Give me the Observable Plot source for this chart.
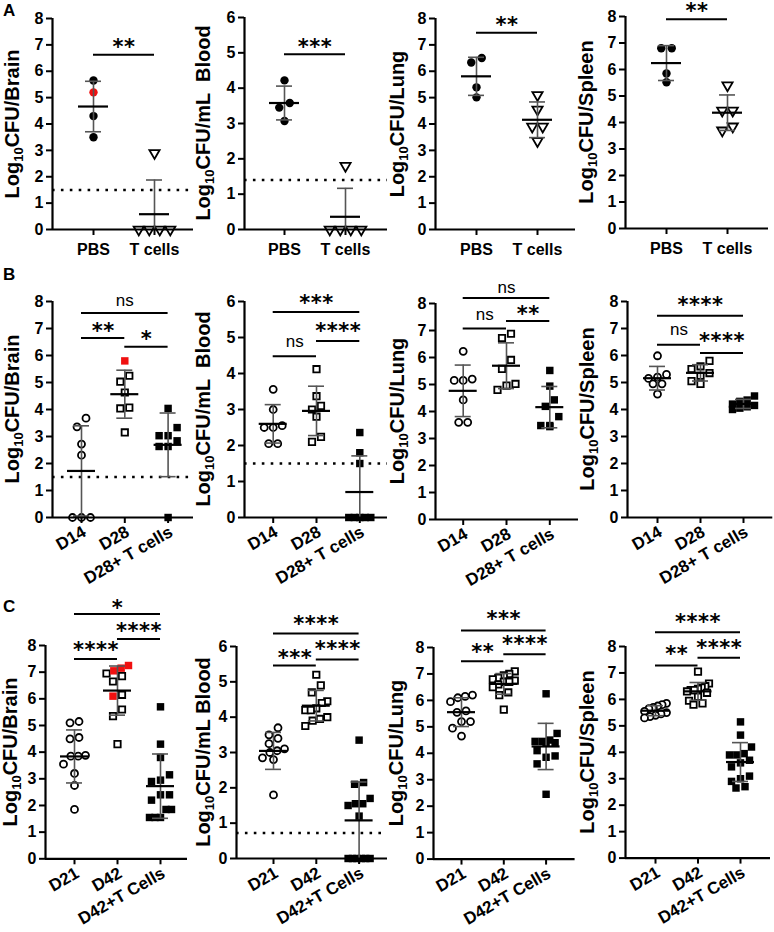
<!DOCTYPE html>
<html><head><meta charset="utf-8">
<script src="https://cdn.jsdelivr.net/npm/d3@7"></script>
<script src="https://cdn.jsdelivr.net/npm/@observablehq/plot@0.6"></script>
<style>
body{margin:0;background:#fff;}
#fig{position:relative;width:774px;height:932px;overflow:hidden;background:#fff;font-family:"Liberation Sans",Arial,sans-serif;color:#000;}
.panel{position:absolute;}
.ylab{position:absolute;white-space:pre;font-weight:bold;font-size:20px;line-height:1;transform:translate(-50%,-50%) rotate(-90deg);}
.ylab sub{font-size:13px;vertical-align:-4px;}
.letter{position:absolute;font-weight:bold;font-size:17px;line-height:1;}
</style></head>
<body><div id="fig"></div>
<script>
// ---------- categories ----------
const catsA = ["PBS", "T cells"];
const catsB = ["D14", "D28", "D28+ T cells"];
const catsC = ["D21", "D42", "D42+T Cells"];

// ---------- Row A values (log10 CFU) ----------
const A_brain_PBS = [5.65, 4.3, 3.5];
const A_brain_PBS_red = [5.2];
const A_brain_T = [2.9, 0, 0, 0, 0];
const A_blood_PBS = [4.22, 3.58, 3.45, 3.07];
const A_blood_T = [1.8, 0, 0, 0, 0];
const A_lung_PBS = [6.5, 6.33, 5.39, 5.01];
const A_lung_T = [5.1, 4.55, 3.9, 3.9, 3.35];
const A_spleen_PBS = [6.8, 6.8, 5.85, 5.52];
const A_spleen_T = [5.4, 4.45, 4.45, 3.85, 3.7];

// ---------- Row B values ----------
const B_brain_D14 = [3.68, 3.36, 2.72, 2.31, 0, 0, 0];
const B_brain_D28 = [5.25, 5.03, 4.63, 4.07, 4.04, 3.15];
const B_brain_D28_red = [5.8];
const B_brain_D28T = [4.04, 3.33, 3.03, 3.03, 2.84, 2.63, 2.63, 0];
const B_blood_D14 = [3.56, 3.0, 2.55, 2.5, 2.5, 2.05, 2.05];
const B_blood_D28 = [4.12, 3.37, 3.1, 3.0, 2.8, 2.24, 2.1];
const B_blood_D28T = [2.36, 1.8, 1.5, 0, 0, 0, 0, 0];
const B_lung_D14 = [6.23, 5.2, 5.15, 5.15, 4.43, 3.6, 3.6];
const B_lung_D28 = [6.88, 6.72, 5.91, 5.58, 5.02, 4.96, 4.8];
const B_lung_D28T = [5.52, 4.94, 4.43, 4.19, 3.81, 3.48, 3.48, 3.44];
const B_spleen_D14 = [5.99, 5.3, 5.2, 5.15, 4.95, 4.95, 4.57];
const B_spleen_D28 = [5.8, 5.6, 5.5, 5.35, 5.25, 5.05, 4.95];
const B_spleen_D28T = [4.5, 4.35, 4.3, 4.2, 4.15, 4.1, 4.05, 4.0];

// ---------- Row C values ----------
const C_brain_D21 = [5.15, 5.1, 4.55, 4.5, 3.88, 3.85, 3.85, 3.55, 3.2, 2.75, 1.85];
const C_brain_D42 = [6.95, 6.85, 6.65, 6.15, 5.6, 5.35, 4.3];
const C_brain_D42_red = [7.25, 7.15, 7.05, 6.1];
const C_brain_D42T = [5.7, 4.3, 3.8, 3.15, 2.95, 2.9, 2.4, 2.4, 2.2, 1.85, 1.85, 1.55, 1.55, 1.55];
const C_blood_D21 = [3.7, 3.5, 3.4, 3.25, 3.1, 3.05, 3.0, 2.85, 2.8, 1.8];
const C_blood_D42 = [5.2, 4.9, 4.7, 4.45, 4.4, 4.25, 4.2, 4.2, 4.0, 3.95, 3.9, 3.75];
const C_blood_D42T = [3.35, 2.15, 2.1, 1.7, 1.55, 1.55, 1.5, 1.2, 0, 0, 0, 0, 0, 0];
const C_lung_D21 = [6.2, 6.15, 6.1, 5.95, 5.6, 5.55, 5.2, 5.2, 4.95, 4.65];
const C_lung_D42 = [7.1, 7.0, 6.95, 6.85, 6.8, 6.75, 6.7, 6.7, 6.6, 6.5, 6.3, 6.2, 5.65];
const C_lung_D42T = [6.25, 4.75, 4.5, 4.45, 4.45, 4.4, 4.4, 4.1, 3.9, 3.85, 3.6, 2.45];
const C_spleen_D21 = [5.85, 5.8, 5.75, 5.7, 5.65, 5.55, 5.5, 5.45, 5.4, 5.35, 5.3];
const C_spleen_D42 = [7.05, 6.6, 6.5, 6.45, 6.4, 6.35, 6.35, 6.3, 6.25, 6.1, 5.95, 5.85, 5.8];
const C_spleen_D42T = [5.15, 4.65, 4.2, 3.95, 3.9, 3.9, 3.7, 3.6, 3.45, 3.1, 3.0, 2.9, 2.7, 2.65];

// ---------- detection limits (dotted lines) ----------
const lodA_brain = 1.5, lodA_blood = 1.4, lodB_brain = 1.5, lodB_blood = 1.5, lodC_blood = 0.72;

// ---------- significance annotations: [from, to, bracket level, label, label level] ----------
const sigA_brain = [[0, 1, 6.63, "**", 7.1]];
const sigA_blood = [[0, 1, 4.96, "***", 5.3]];
const sigA_lung = [[0, 1, 7.46, "**", 7.95]];
const sigA_spleen = [[0, 1, 7.9, "**", 8.4]];
const sigB_brain = [[0, 2, 7.57, "ns", 8.05], [0, 1, 6.65, "**", 7.1], [1, 2, 6.32, "*", 6.8]];
const sigB_blood = [[0, 2, 5.71, "***", 6.1], [0, 1, 4.48, "ns", 4.9], [1, 2, 4.9, "****", 5.3]];
const sigB_lung = [[0, 2, 8.2, "ns", 8.6], [0, 1, 7.07, "ns", 7.6], [1, 2, 7.35, "**", 7.8]];
const sigB_spleen = [[0, 2, 7.47, "****", 8.05], [0, 1, 6.4, "ns", 6.95], [1, 2, 6.09, "****", 6.7]];
const sigC_brain = [[0, 2, 9.18, "*", 9.6], [1, 2, 8.24, "****", 8.74], [0, 1, 7.49, "****", 8.0]];
const sigC_blood = [[0, 2, 6.37, "****", 6.78], [0, 1, 5.46, "***", 5.8], [1, 2, 5.63, "****", 6.07]];
const sigC_lung = [[0, 2, 8.64, "***", 9.25], [0, 1, 7.48, "**", 8.0], [1, 2, 7.74, "****", 8.3]];
const sigC_spleen = [[0, 2, 8.54, "****", 9.1], [0, 1, 7.28, "**", 7.9], [1, 2, 7.57, "****", 8.14]];

// ---------- layout ----------
const triDown = {draw(ctx, size) {
  const a = Math.sqrt(size * 4 / Math.sqrt(3)), h = a * Math.sqrt(3) / 2;
  ctx.moveTo(0, 2 * h / 3); ctx.lineTo(-a / 2, -h / 3); ctx.lineTo(a / 2, -h / 3); ctx.closePath();
}};
const shapes = {
  dot:  {symbol: "circle", fill: "black", stroke: "none", r: 4.2},
  ring: {symbol: "circle", fill: "white", stroke: "black", strokeWidth: 1.8, r: 3.5},
  tri:  {symbol: triDown, fill: "white", stroke: "black", strokeWidth: 1.8, r: 3.8},
  box:  {symbol: "square", fill: "white", stroke: "black", strokeWidth: 1.8, r: 3.6},
  fbox: {symbol: "square", fill: "black", stroke: "none", r: 4.2}
};
const lab = (organ) => organ === "blood2" ? "Log<sub>10</sub>CFU/mL Blood" :
  organ === "blood" ? "Log<sub>10</sub>CFU/mL  Blood" : "Log<sub>10</sub>CFU/" + organ;

const panels = [
  {cats: catsA, ylab: lab("Brain"), axis: 52, x0: 93, step: 61, xEnd: 193, yTop: 18, yZero: 229, ymax: 8, labelX: 13, row: "A", lod: lodA_brain,
   groups: [{v: A_brain_PBS, red: A_brain_PBS_red, s: "dot"}, {v: A_brain_T, s: "tri"}], sig: sigA_brain},
  {cats: catsA, ylab: lab("blood"), axis: 244, x0: 284, step: 61, xEnd: 387, yTop: 17, yZero: 229, ymax: 6, labelX: 204, row: "A", lod: lodA_blood,
   groups: [{v: A_blood_PBS, s: "dot"}, {v: A_blood_T, s: "tri"}], sig: sigA_blood},
  {cats: catsA, ylab: lab("Lung"), axis: 435, x0: 476, step: 61, xEnd: 575, yTop: 18, yZero: 229, ymax: 8, labelX: 398, row: "A",
   groups: [{v: A_lung_PBS, s: "dot"}, {v: A_lung_T, s: "tri"}], sig: sigA_lung},
  {cats: catsA, ylab: lab("Spleen"), axis: 625, x0: 666, step: 61, xEnd: 768, yTop: 16, yZero: 228, ymax: 8, labelX: 587, row: "A",
   groups: [{v: A_spleen_PBS, s: "dot"}, {v: A_spleen_T, s: "tri"}], sig: sigA_spleen},

  {cats: catsB, ylab: lab("Brain"), axis: 52, x0: 81, step: 43.3, xEnd: 193, yTop: 300.7, yZero: 516.7, ymax: 8, labelX: 13, row: "B", lod: lodB_brain,
   groups: [{v: B_brain_D14, s: "ring"}, {v: B_brain_D28, red: B_brain_D28_red, s: "box"}, {v: B_brain_D28T, s: "fbox"}], sig: sigB_brain},
  {cats: catsB, ylab: lab("blood"), axis: 244, x0: 272.7, step: 43.3, xEnd: 387, yTop: 301.3, yZero: 517.3, ymax: 6, labelX: 204, row: "B", lod: lodB_blood,
   groups: [{v: B_blood_D14, s: "ring"}, {v: B_blood_D28, s: "box"}, {v: B_blood_D28T, s: "fbox"}], sig: sigB_blood},
  {cats: catsB, ylab: lab("Lung"), axis: 435, x0: 462.7, step: 43.3, xEnd: 578, yTop: 303, yZero: 519, ymax: 8, labelX: 398, row: "B",
   groups: [{v: B_lung_D14, s: "ring"}, {v: B_lung_D28, s: "box"}, {v: B_lung_D28T, s: "fbox"}], sig: sigB_lung},
  {cats: catsB, ylab: lab("Spleen"), axis: 626.7, x0: 656.7, step: 43, xEnd: 772, yTop: 300.7, yZero: 516.7, ymax: 8, labelX: 588, row: "B",
   groups: [{v: B_spleen_D14, s: "ring"}, {v: B_spleen_D28, s: "box"}, {v: B_spleen_D28T, s: "fbox"}], sig: sigB_spleen},

  {cats: catsC, ylab: lab("Brain"), axis: 45, x0: 74, step: 43, xEnd: 187, yTop: 645, yZero: 858.3, ymax: 8, labelX: 11, row: "C",
   groups: [{v: C_brain_D21, s: "ring"}, {v: C_brain_D42, red: C_brain_D42_red, s: "box"}, {v: C_brain_D42T, s: "fbox"}], sig: sigC_brain},
  {cats: catsC, ylab: lab("blood2"), axis: 235.7, x0: 272.7, step: 42.8, xEnd: 386.7, yTop: 645.7, yZero: 857.7, ymax: 6, labelX: 204, row: "C", lod: lodC_blood,
   groups: [{v: C_blood_D21, s: "ring"}, {v: C_blood_D42, s: "box"}, {v: C_blood_D42T, s: "fbox"}], sig: sigC_blood},
  {cats: catsC, ylab: lab("Lung"), axis: 432.7, x0: 460.7, step: 42.3, xEnd: 574.3, yTop: 646.7, yZero: 858.3, ymax: 8, labelX: 397, row: "C",
   groups: [{v: C_lung_D21, s: "ring"}, {v: C_lung_D42, s: "box"}, {v: C_lung_D42T, s: "fbox"}], sig: sigC_lung},
  {cats: catsC, ylab: lab("Spleen"), axis: 625, x0: 655, step: 42.5, xEnd: 770, yTop: 645.7, yZero: 857.3, ymax: 8, labelX: 588, row: "C",
   groups: [{v: C_spleen_D21, s: "ring"}, {v: C_spleen_D42, s: "box"}, {v: C_spleen_D42T, s: "fbox"}], sig: sigC_spleen}
];

// horizontal spreading of points that share a height (GraphPad-style scatter)
function spread(vals, pxPerUnit, spacing, maxSpan, thr) {
  const idx = vals.map((v, i) => i).sort((a, b) => vals[b] - vals[a]);
  const off = new Array(vals.length).fill(0);
  let i = 0;
  while (i < idx.length) {
    let j = i + 1;
    while (j < idx.length && (vals[idx[i]] - vals[idx[j]]) * pxPerUnit < thr) j++;
    const k = j - i;
    const sp = k > 1 ? Math.min(spacing, maxSpan / (k - 1)) : 0;
    const cl = idx.slice(i, j).sort((a, b) => vals[a] - vals[b]);
    cl.forEach((id, m) => off[id] = (m - (k - 1) / 2) * sp);
    i = j;
  }
  return off;
}

const fig = document.getElementById("fig");
const ML = 50, MR = 2, MT = 62, MB = 72;

panels.forEach(p => {
  const rowA = p.row === "A";
  const pxPerUnit = (p.yZero - p.yTop) / p.ymax;
  const spacing = rowA ? 10.5 : 9, maxSpan = rowA ? 34 : 22, thr = rowA ? 8 : 9;
  const meanHalf = (rowA ? 15 : 14) / p.step, capHalf = 8 / p.step;
  const pts = [], stats = [];
  p.groups.forEach((g, gi) => {
    const all = g.v.map(v => ({v, red: false})).concat((g.red || []).map(v => ({v, red: true})));
    const off = spread(all.map(d => d.v), pxPerUnit, spacing, maxSpan, thr);
    all.forEach((d, i) => pts.push({g: gi, x: gi + off[i] / p.step, y: d.v, red: d.red}));
    const vals = all.map(d => d.v);
    const m = d3.mean(vals), s = d3.deviation(vals);
    stats.push({x: gi, mean: m, hi: m + s, lo: Math.max(0, m - s), lowCap: m - s > 0});
  });
  const xd0 = (p.axis - p.x0) / p.step, xd1 = (p.xEnd - p.x0) / p.step;
  const width = ML + (p.xEnd - p.axis) + MR;
  const height = MT + (p.yZero - p.yTop) + MB;
  const sig = p.sig.map(([from, to, y, label, ty]) => ({from, to, y, label, ty}));
  const catIdx = d3.range(p.cats.length);

  const marks = [];
  if (p.lod != null) marks.push(Plot.ruleY([p.lod], {stroke: "black", strokeWidth: 2.6, strokeDasharray: "2.6,6.3"}));
  p.groups.forEach((g, gi) => {
    const sh = shapes[g.s];
    marks.push(Plot.dot(pts.filter(d => d.g === gi && !d.red), {x: "x", y: "y", ...sh}));
    marks.push(Plot.dot(pts.filter(d => d.g === gi && d.red), {x: "x", y: "y", ...sh, fill: "#f01010", stroke: "none", r: 4.2}));
  });
  marks.push(
    Plot.ruleX(stats, {x: "x", y1: "lo", y2: "hi", stroke: "#555", strokeWidth: 1.6}),
    Plot.ruleY(stats, {y: "hi", x1: d => d.x - capHalf, x2: d => d.x + capHalf, stroke: "#555", strokeWidth: 1.6}),
    Plot.ruleY(stats.filter(d => d.lowCap), {y: "lo", x1: d => d.x - capHalf, x2: d => d.x + capHalf, stroke: "#555", strokeWidth: 1.6}),
    Plot.ruleY(stats, {y: "mean", x1: d => d.x - meanHalf, x2: d => d.x + meanHalf, stroke: "black", strokeWidth: 2.2}),
    Plot.ruleX([xd0], {stroke: "black", strokeWidth: 2.2}),
    Plot.ruleY([0], {stroke: "black", strokeWidth: 2.2}),
    Plot.axisY({ticks: d3.range(0, p.ymax + 1), tickFormat: d => String(d), tickSize: 6, tickPadding: 3, strokeWidth: 2, label: null, fontSize: 16, fontWeight: "bold"}),
    // category tick marks
    Plot.ruleX(catIdx, {x: d => d, y1: 0, y2: -6 / pxPerUnit, stroke: "black", strokeWidth: 2}),
    rowA
      ? Plot.text(catIdx, {x: d => d, y: 0, text: i => p.cats[i], lineAnchor: "top", dy: 14, fontSize: 16, fontWeight: "bold"})
      : Plot.text(catIdx, {x: d => d, y: 0, text: i => p.cats[i], rotate: -30, textAnchor: "end", lineAnchor: "middle", dx: 3, dy: 13, fontSize: 17, fontWeight: "bold"}),
    Plot.ruleY(sig, {y: "y", x1: "from", x2: "to", stroke: "black", strokeWidth: 2}),
    Plot.text(sig.filter(d => d.label !== "ns"), {x: d => (d.from + d.to) / 2, y: "ty", text: "label", fontSize: 21, fontWeight: "bold", fontFamily: "DejaVu Sans", dy: 5}),
    Plot.text(sig.filter(d => d.label === "ns"), {x: d => (d.from + d.to) / 2, y: "ty", text: "label", fontSize: 17, fontWeight: "normal"})
  );

  const svg = Plot.plot({
    width, height, marginLeft: ML, marginRight: MR, marginTop: MT, marginBottom: MB,
    x: {domain: [xd0, xd1], axis: null}, y: {domain: [0, p.ymax], axis: null},
    style: {background: "transparent", overflow: "visible", fontFamily: "'Liberation Sans', Arial, sans-serif", fontSize: "16px", fontWeight: "bold", color: "black"},
    marks
  });
  d3.select(svg).selectAll("text").each(function () {
    if (/^\*+$/.test(this.textContent)) this.setAttribute("letter-spacing", "0.5px");
  });
  const div = document.createElement("div");
  div.className = "panel";
  div.style.left = (p.axis - ML) + "px";
  div.style.top = (p.yTop - MT) + "px";
  div.appendChild(svg);
  fig.appendChild(div);

  const yl = document.createElement("div");
  yl.className = "ylab";
  yl.innerHTML = p.ylab;
  yl.style.left = p.labelX + "px";
  yl.style.top = ((p.yTop + p.yZero) / 2) + "px";
  fig.appendChild(yl);
});

[["A", 3, 2], ["B", 3, 266], ["C", 3, 598]].forEach(([t, x, y]) => {
  const d = document.createElement("div");
  d.className = "letter"; d.textContent = t;
  d.style.left = x + "px"; d.style.top = y + "px";
  fig.appendChild(d);
});
</script></body></html>
